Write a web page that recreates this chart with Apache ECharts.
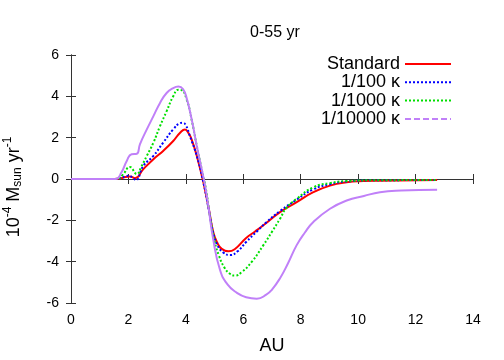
<!DOCTYPE html>
<html>
<head>
<meta charset="utf-8">
<script src="https://cdn.jsdelivr.net/npm/echarts@6/dist/echarts.min.js"></script>
<style>
  html, body { margin: 0; padding: 0; background: #fff; }
  #chart { width: 504px; height: 360px; }
</style>
</head>
<body>
<div id="chart"></div>
<script>
// values: [AU, 10^-4 Msun/yr]
const standard = [
  [0, 0], [1.5, 0], [1.7, 0.02], [1.9, 0.1], [2.05, 0.12], [2.23, 0.04],
  [2.52, 0.48], [2.87, 0.96], [3.21, 1.36], [3.56, 1.84], [3.8, 2.24],
  [3.97, 2.4], [4.1, 2.2], [4.2, 1.92], [4.38, 1.12], [4.61, -0.16],
  [4.8, -1.45], [4.96, -2.6], [5.1, -3.1], [5.25, -3.38], [5.48, -3.5],
  [5.7, -3.4], [6.1, -2.85], [6.4, -2.55], [6.7, -2.24], [7.28, -1.6], [7.86, -1.12],
  [8.44, -0.64], [9.02, -0.32], [9.6, -0.16], [10.2, -0.1], [10.76, -0.08], [12.75, -0.05]
]
const kappa100 = [
  [0, 0], [1.5, 0], [1.7, 0.03], [1.9, 0.13], [2.0, 0.16], [2.15, 0.06], [2.26, -0.05],
  [2.52, 0.64], [2.87, 1.12], [3.21, 1.76], [3.56, 2.4], [3.8, 2.7], [3.89, 2.72],
  [4.0, 2.6], [4.14, 2.08], [4.38, 1.12], [4.61, -0.16], [4.8, -1.5], [4.96, -2.65],
  [5.1, -3.2], [5.3, -3.55], [5.54, -3.68], [5.8, -3.5], [6.1, -3.05], [6.5, -2.5],
  [6.8, -2.1], [7.28, -1.55], [7.86, -1.0], [8.44, -0.5], [9.02, -0.25], [9.6, -0.12],
  [10.76, -0.06], [12.75, -0.05]
]
const kappa1000 = [
  [0, 0], [1.6, 0], [1.8, 0.2], [2.05, 0.58], [2.29, 0.24], [2.45, 0.6], [2.64, 1.12],
  [2.87, 1.76], [3.1, 2.56], [3.33, 3.28], [3.56, 4.0], [3.74, 4.32], [3.85, 4.3],
  [4.03, 3.84], [4.2, 2.88], [4.38, 1.6], [4.55, 0.48], [4.7, -0.5], [4.85, -1.9],
  [5.0, -3.0], [5.15, -3.7], [5.35, -4.3], [5.55, -4.6], [5.71, -4.67],
  [5.95, -4.5], [6.3, -4.0], [6.7, -3.2], [7.0, -2.55], [7.28, -1.92], [7.5, -1.4],
  [7.86, -0.96], [8.44, -0.4], [9.02, -0.2], [9.6, -0.1], [10.76, -0.06], [12.75, -0.05]
]
const kappa10000 = [
  [0, 0], [1.55, 0], [1.75, 0.3], [1.95, 0.9], [2.11, 1.2], [2.29, 1.22], [2.4, 1.68],
  [2.64, 2.4], [2.87, 3.04], [3.1, 3.68], [3.33, 4.16], [3.56, 4.4], [3.74, 4.47],
  [3.9, 4.35], [4.03, 3.9], [4.2, 2.9], [4.38, 1.6], [4.55, 0.48], [4.67, -0.32],
  [4.78, -1.28], [4.95, -2.9], [5.19, -4.4], [5.45, -5.1], [5.77, -5.5], [6.1, -5.72],
  [6.47, -5.79], [6.8, -5.6], [7.0, -5.35], [7.28, -4.8], [7.55, -4.1], [7.86, -3.2],
  [8.14, -2.6], [8.44, -2.08], [9.02, -1.44], [9.6, -1.04], [10.2, -0.82], [10.76, -0.64],
  [11.5, -0.56], [12.75, -0.52]
]
const seriesNames = ['Standard', '1/100 \u03ba', '1/1000 \u03ba', '1/10000 \u03ba']
const seriesData = [standard, kappa100, kappa1000, kappa10000]
const seriesColors = ['#ff0000', '#0000ff', '#00e000', '#c080f8']
const seriesTypes = ['solid', 'dotted', 'dotted', 'solid']
const legendTypes = ['solid', 'dotted', 'dotted', [6, 3]]
const seriesWidths = [2, 2, 2, 2]

const font = 'Liberation Sans, Arial, sans-serif'
const frame = { show: true, lineStyle: { color: '#333', width: 1 } }
const ticksIn = { show: true, inside: true, length: 5, lineStyle: { color: '#333' } }

const chart = echarts.init(document.getElementById('chart'))

chart.setOption({
  animation: false,
  title: {
    text: '0-55 yr', left: 270, top: 20, textAlign: 'center',
    textStyle: { fontFamily: font, fontSize: 16, fontWeight: 'normal', color: '#000' }
  },
  legend: seriesNames.map((name, i) => ({
    data: [name],
    right: 52,
    top: 55 + i * 18.3,
    align: 'right',
    padding: 0,
    itemWidth: 46,
    itemHeight: 10,
    itemGap: 10,
    itemStyle: { opacity: 0 },
    lineStyle: { type: legendTypes[i], width: 2 },
    textStyle: { fontFamily: font, fontSize: 18, color: '#000' }
  })),
  graphic: [{
    type: 'text',
    x: 14, y: 187, rotation: Math.PI / 2,
    style: {
      text: '{n|10}{sup|-4}{n| M}{sub|sun}{n| yr}{sup|-1}',
      align: 'center', verticalAlign: 'middle',
      rich: {
        n: { fontFamily: font, fontSize: 18, fill: '#000' },
        sup: { fontFamily: font, fontSize: 12, fill: '#000', padding: [0, 0, 12, 0] },
        sub: { fontFamily: font, fontSize: 12, fill: '#000', padding: [8, 0, 0, 0] }
      }
    }
  }],
  grid: { left: 71, right: 31, top: 55, bottom: 55 },
  xAxis: [{
    type: 'value', min: 0, max: 14, interval: 2,
    name: 'AU', nameLocation: 'middle', nameGap: 34,
    nameTextStyle: { fontFamily: font, fontSize: 18, color: '#000' },
    axisLine: frame, axisTick: ticksIn, splitLine: { show: false },
    axisLabel: { fontFamily: font, fontSize: 14, color: '#000', margin: 10 }
  }, {
    type: 'value', position: 'top', min: 0, max: 14, interval: 2,
    axisLine: frame, axisTick: ticksIn, splitLine: { show: false },
    axisLabel: { show: false }
  }],
  yAxis: [{
    type: 'value', min: -6, max: 6, interval: 2,
    axisLine: frame, axisTick: ticksIn, splitLine: { show: false },
    axisLabel: { fontFamily: font, fontSize: 14, color: '#000', margin: 12 }
  }, {
    type: 'value', position: 'right', min: -6, max: 6, interval: 2,
    axisLine: frame, axisTick: ticksIn, splitLine: { show: false },
    axisLabel: { show: false }
  }],
  series: seriesNames.map((name, i) => ({
    name,
    type: 'line',
    data: seriesData[i],
    smooth: 0.5,
    showSymbol: false,
    symbol: 'none',
    color: seriesColors[i],
    lineStyle: { color: seriesColors[i], width: seriesWidths[i], type: seriesTypes[i] }
  }))
})
</script>
</body>
</html>
